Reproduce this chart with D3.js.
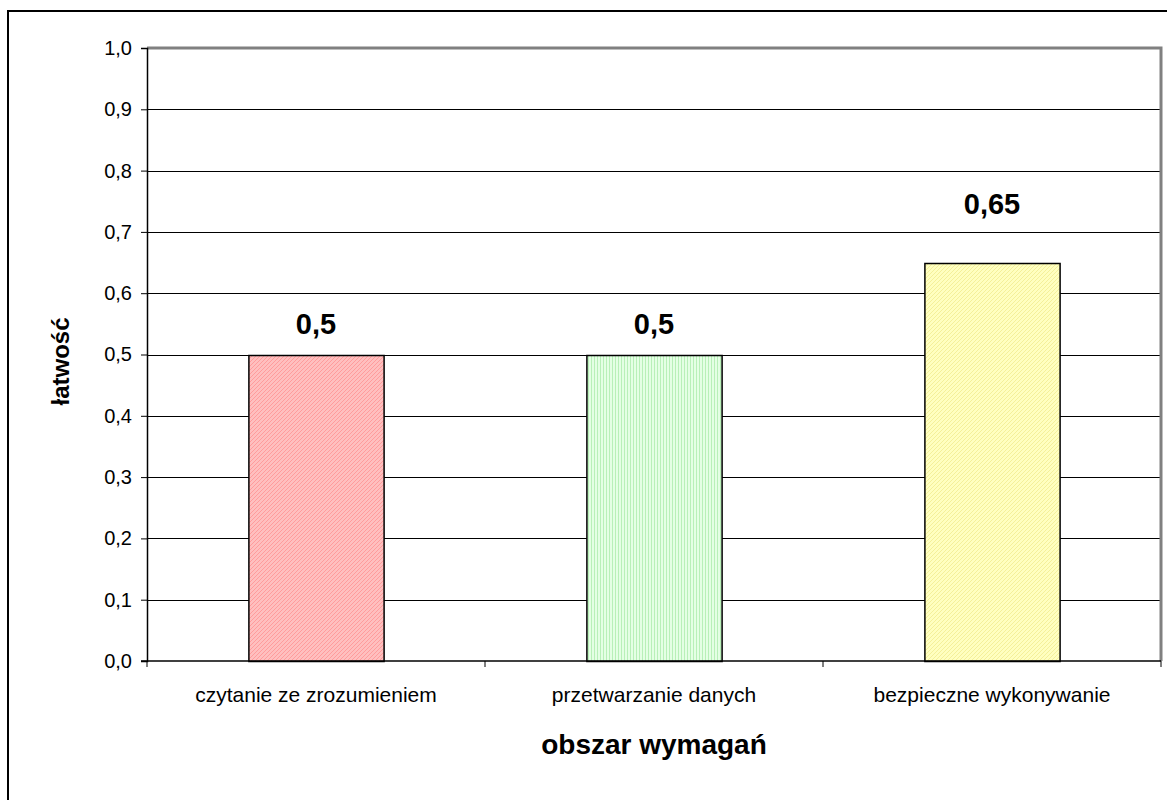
<!DOCTYPE html>
<html>
<head>
<meta charset="utf-8">
<script src="https://cdn.jsdelivr.net/npm/d3@7"></script>
<style>
  body { margin: 0; background: #fff; }
  svg { font-family: Arial, "Liberation Sans", sans-serif; }
</style>
</head>
<body>
<script>
// dane wykresu
const categories = ["czytanie ze zrozumieniem", "przetwarzanie danych", "bezpieczne wykonywanie"];
const values = [0.5, 0.5, 0.65];
const valueLabels = ["0,5", "0,5", "0,65"];
const yTicks = [0, 0.1, 0.2, 0.3, 0.4, 0.5, 0.6, 0.7, 0.8, 0.9, 1.0];

const fills = ["#ffbfbf", "#e4ffe4", "#ffffc0"];
const strokes = ["#ff9c9c", "#b8f0b8", "#f4f09a"];
const labelLift = [21, 21, 49];

const width = 1167, height = 800;
const margin = { left: 147, right: 6, top: 48, bottom: 139 };

const svg = d3.select("body").append("svg")
  .attr("width", width)
  .attr("height", height);

// patterns for bars
const defs = svg.append("defs");
const p0 = defs.append("pattern").attr("id", "pat0").attr("patternUnits", "userSpaceOnUse")
  .attr("width", 4).attr("height", 4);
p0.append("rect").attr("width", 4).attr("height", 4).attr("fill", fills[0]);
p0.append("path").attr("d", "M0,4L4,0M-1,1L1,-1M3,5L5,3").attr("stroke", strokes[0]).attr("stroke-width", 1);

const p1 = defs.append("pattern").attr("id", "pat1").attr("patternUnits", "userSpaceOnUse")
  .attr("width", 3).attr("height", 3);
p1.append("rect").attr("width", 3).attr("height", 3).attr("fill", fills[1]);
p1.append("rect").attr("x", 0).attr("width", 1).attr("height", 3).attr("fill", strokes[1]);

const p2 = defs.append("pattern").attr("id", "pat2").attr("patternUnits", "userSpaceOnUse")
  .attr("width", 4).attr("height", 4);
p2.append("rect").attr("width", 4).attr("height", 4).attr("fill", fills[2]);
p2.append("path").attr("d", "M0,4L4,0M-1,1L1,-1M3,5L5,3").attr("stroke", strokes[2]).attr("stroke-width", 1);

// outer chart border (clipped by window on right and bottom)
svg.append("rect")
  .attr("x", 8).attr("y", 11)
  .attr("width", 1170).attr("height", 800)
  .attr("fill", "none").attr("stroke", "#000").attr("stroke-width", 2);

const x = d3.scaleBand()
  .domain(categories)
  .range([margin.left, width - margin.right])
  .paddingInner(0.6).paddingOuter(0.3);

const band = d3.scaleBand()
  .domain(categories)
  .range([margin.left, width - margin.right]);

const y = d3.scaleLinear()
  .domain([0, 1])
  .range([height - margin.bottom, margin.top]);

// gridlines
svg.append("g")
  .selectAll("line")
  .data(yTicks.slice(1, -1))
  .join("line")
  .attr("x1", margin.left).attr("x2", width - margin.right)
  .attr("y1", d => Math.round(y(d)) + 0.5).attr("y2", d => Math.round(y(d)) + 0.5)
  .attr("stroke", "#000").attr("stroke-width", 1);

// plot area border (top & right gray)
svg.append("path")
  .attr("d", `M${margin.left},${y(1)}H${width - margin.right}V${y(0)}`)
  .attr("fill", "none").attr("stroke", "#808080").attr("stroke-width", 3);

// bars
svg.append("g")
  .selectAll("rect")
  .data(values)
  .join("rect")
  .attr("x", (d, i) => x(categories[i]) + 0.5)
  .attr("y", d => Math.round(y(d)) + 0.5)
  .attr("width", x.bandwidth())
  .attr("height", d => y(0) - Math.round(y(d)))
  .attr("fill", (d, i) => `url(#pat${i})`)
  .attr("stroke", "#000").attr("stroke-width", 1.5);

// value labels
svg.append("g")
  .selectAll("text")
  .data(values)
  .join("text")
  .attr("x", (d, i) => x(categories[i]) + x.bandwidth() / 2)
  .attr("y", (d, i) => y(d) - labelLift[i])
  .attr("text-anchor", "middle")
  .attr("font-size", 29).attr("font-weight", "bold")
  .text((d, i) => valueLabels[i]);

// y axis
const yAxis = d3.axisLeft(y)
  .tickValues(yTicks)
  .tickSize(6)
  .tickFormat(d => d3.format(".1f")(d).replace(".", ","));
const gy = svg.append("g")
  .attr("transform", `translate(${margin.left},0)`)
  .call(yAxis);
gy.select(".domain").attr("stroke", "#000").attr("stroke-width", 1.5);
gy.selectAll(".tick line").attr("stroke", "#000");
gy.selectAll(".tick text").attr("font-size", 20).attr("fill", "#000")
  .attr("font-family", "Arial, 'Liberation Sans', sans-serif").attr("x", -15);

// x axis
const gx = svg.append("g")
  .attr("transform", `translate(0,${y(0)})`);
gx.append("line")
  .attr("x1", margin.left - 6).attr("x2", width - margin.right)
  .attr("stroke", "#000").attr("stroke-width", 1.5);
const xTickPos = categories.map(c => band(c)).concat([width - margin.right]);
gx.selectAll(".xt")
  .data(xTickPos)
  .join("line")
  .attr("class", "xt")
  .attr("x1", d => d).attr("x2", d => d)
  .attr("y1", 0).attr("y2", 6)
  .attr("stroke", "#000");
gx.selectAll(".xl")
  .data(categories)
  .join("text")
  .attr("class", "xl")
  .attr("x", d => band(d) + band.bandwidth() / 2)
  .attr("y", 41)
  .attr("text-anchor", "middle")
  .attr("font-size", 21)
  .text(d => d);

// axis titles
svg.append("text")
  .attr("x", (margin.left + width - margin.right) / 2)
  .attr("y", 754)
  .attr("text-anchor", "middle")
  .attr("font-size", 28).attr("font-weight", "bold")
  .text("obszar wymagań");

svg.append("text")
  .attr("transform", `translate(69,${(y(0) + y(1)) / 2 + 7}) rotate(-90)`)
  .attr("text-anchor", "middle")
  .attr("font-size", 24).attr("font-weight", "bold")
  .text("łatwość");
</script>
</body>
</html>
